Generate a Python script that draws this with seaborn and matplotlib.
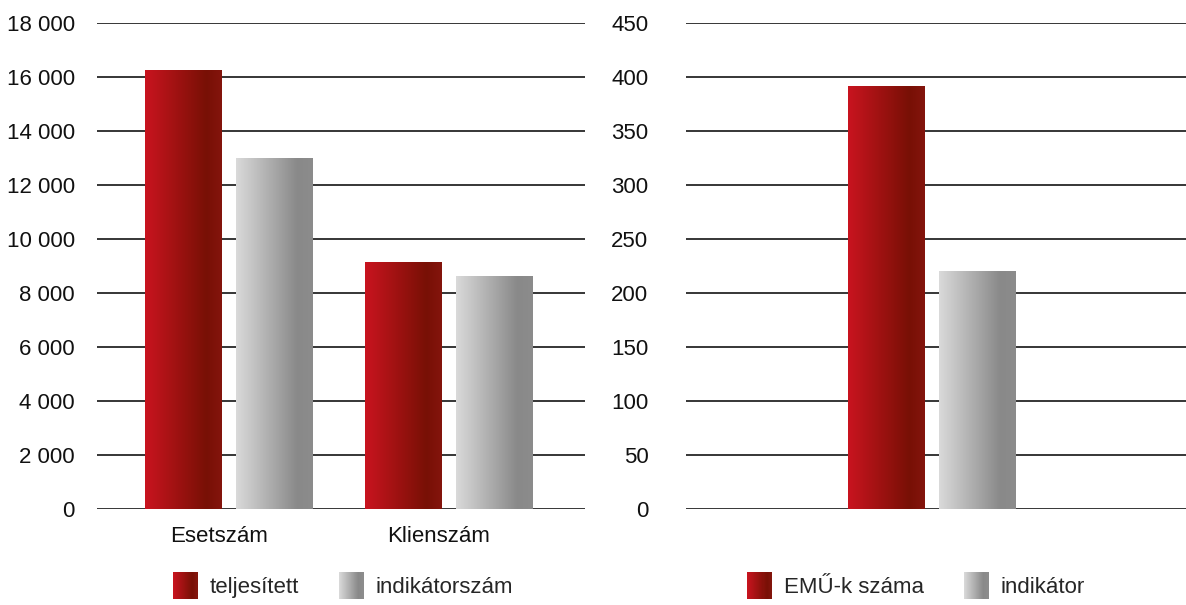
import numpy as np
import pandas as pd
import matplotlib
matplotlib.use("Agg")
import matplotlib.pyplot as plt
import seaborn as sns
from matplotlib.colors import LinearSegmentedColormap, to_rgb
from matplotlib.patches import Rectangle
from matplotlib.legend_handler import HandlerBase
from matplotlib.ticker import FuncFormatter, MultipleLocator
from matplotlib.transforms import ScaledTranslation

# ---------------- data ----------------
categories_left = ["Esetszám", "Klienszám"]
teljesitett = [16260, 9150]
indikatorszam = [13000, 8630]

categories_right = [""]
emu_szama = [392]
indikator = [220]

series_left = ["teljesített", "indikátorszám"]
series_right = ["EMŰ-k száma", "indikátor"]

# ---------------- style ----------------
sns.set_theme(style="white")
plt.rcParams["font.family"] = ["Liberation Sans Narrow", "Liberation Sans", "DejaVu Sans"]

RED = "#b01418"
GRAY = "#b0b0b0"
red_cmap = LinearSegmentedColormap.from_list(
    "r", [(0, "#c9141f"), (0.8, "#781005"), (1.0, "#84150d")])
gray_cmap = LinearSegmentedColormap.from_list(
    "g", [(0, "#dadada"), (0.8, "#898989"), (1.0, "#8c8c8c")])

FS = 16

fig = plt.figure(figsize=(11.86, 6.05), dpi=100)
ax1 = fig.add_axes([97 / 1186, 96 / 605, 488 / 1186, 486 / 605])
ax2 = fig.add_axes([686 / 1186, 96 / 605, 500 / 1186, 486 / 605])

df_left = pd.DataFrame({
    "cat": categories_left * 2,
    "value": teljesitett + indikatorszam,
    "series": [series_left[0]] * 2 + [series_left[1]] * 2,
})
df_right = pd.DataFrame({
    "cat": categories_right * 2,
    "value": emu_szama + indikator,
    "series": [series_right[0]] + [series_right[1]],
})

bar_kw = dict(palette=[RED, GRAY], width=0.827, gap=0.154, legend=False,
              zorder=3, linewidth=0, saturation=1)
sns.barplot(data=df_left, x="cat", y="value", hue="series", ax=ax1, **bar_kw)
sns.barplot(data=df_right, x="cat", y="value", hue="series", ax=ax2, **bar_kw)


def gradient_bars(ax):
    grad = np.linspace(0, 1, 256).reshape(1, -1)
    red = np.array(to_rgb(RED))
    gray = np.array(to_rgb(GRAY))
    for p in list(ax.patches):
        if not isinstance(p, Rectangle):
            continue
        fc = np.array(p.get_facecolor()[:3])
        cmap = red_cmap if np.abs(fc - red).sum() < np.abs(fc - gray).sum() else gray_cmap
        x0, y0 = p.get_x(), p.get_y()
        w, h = p.get_width(), p.get_height()
        im = ax.imshow(grad, extent=[x0, x0 + w, y0, y0 + h], aspect="auto",
                       cmap=cmap, zorder=3.5, interpolation="bicubic")
        im.set_clip_path(p)
        p.set_facecolor("none")


gradient_bars(ax1)
gradient_bars(ax2)

ax1.set_xlim(-0.6, 1.618)
ax1.set_ylim(0, 18000)
ax2.set_xlim(-1.118, 1.155)
ax2.set_ylim(0, 450)

ax1.yaxis.set_major_locator(MultipleLocator(2000))
ax2.yaxis.set_major_locator(MultipleLocator(50))
ax1.yaxis.set_major_formatter(FuncFormatter(lambda v, p: f"{int(v):,}".replace(",", " ")))
ax2.yaxis.set_major_formatter(FuncFormatter(lambda v, p: f"{int(v)}"))

for ax, pad in ((ax1, 16), (ax2, 27)):
    ax.set_xlabel("")
    ax.set_ylabel("")
    for s in ax.spines.values():
        s.set_visible(False)
    ax.set_facecolor("none")
    ax.grid(False)
    for t in ax.get_yticks():
        ax.axhline(t, color="#000000", lw=1.1, zorder=1)
    ax.tick_params(axis="y", length=0, pad=pad, labelsize=FS, colors="#111111")
    ax.tick_params(axis="x", length=0, pad=12, labelsize=FS, colors="#111111")

ax2.set_xticks([])
shift = ScaledTranslation(-10 / 100, 0, fig.dpi_scale_trans)
for lab in ax1.get_xticklabels():
    lab.set_transform(lab.get_transform() + shift)


class GradHandler(HandlerBase):
    def __init__(self, cmap):
        super().__init__()
        self.cmap = cmap

    def create_artists(self, legend, orig_handle, xdescent, ydescent,
                       width, height, fontsize, trans):
        n = 24
        arts = []
        for i in range(n):
            r = Rectangle((-xdescent + width * i / n, -ydescent - 3),
                          width / n + 0.3, height + 6,
                          facecolor=self.cmap((i + 0.5) / n), edgecolor="none",
                          transform=trans)
            arts.append(r)
        return arts


h_red = Rectangle((0, 0), 1, 1)
h_gray = Rectangle((0, 0), 1, 1)
h_red2 = Rectangle((0, 0), 1, 1)
h_gray2 = Rectangle((0, 0), 1, 1)

common = dict(ncol=2, frameon=False, fontsize=FS, handlelength=1.1,
              handleheight=0.9, handletextpad=0.55, columnspacing=1.8,
              loc="center")
fig.legend([h_red, h_gray], series_left,
           handler_map={h_red: GradHandler(red_cmap), h_gray: GradHandler(gray_cmap)},
           bbox_to_anchor=(343 / 1186, 1 - 587 / 605), **common)
fig.legend([h_red2, h_gray2], series_right,
           handler_map={h_red2: GradHandler(red_cmap), h_gray2: GradHandler(gray_cmap)},
           bbox_to_anchor=(916 / 1186, 1 - 587 / 605), **common)

fig.savefig("out.png", dpi=100, facecolor="white")
